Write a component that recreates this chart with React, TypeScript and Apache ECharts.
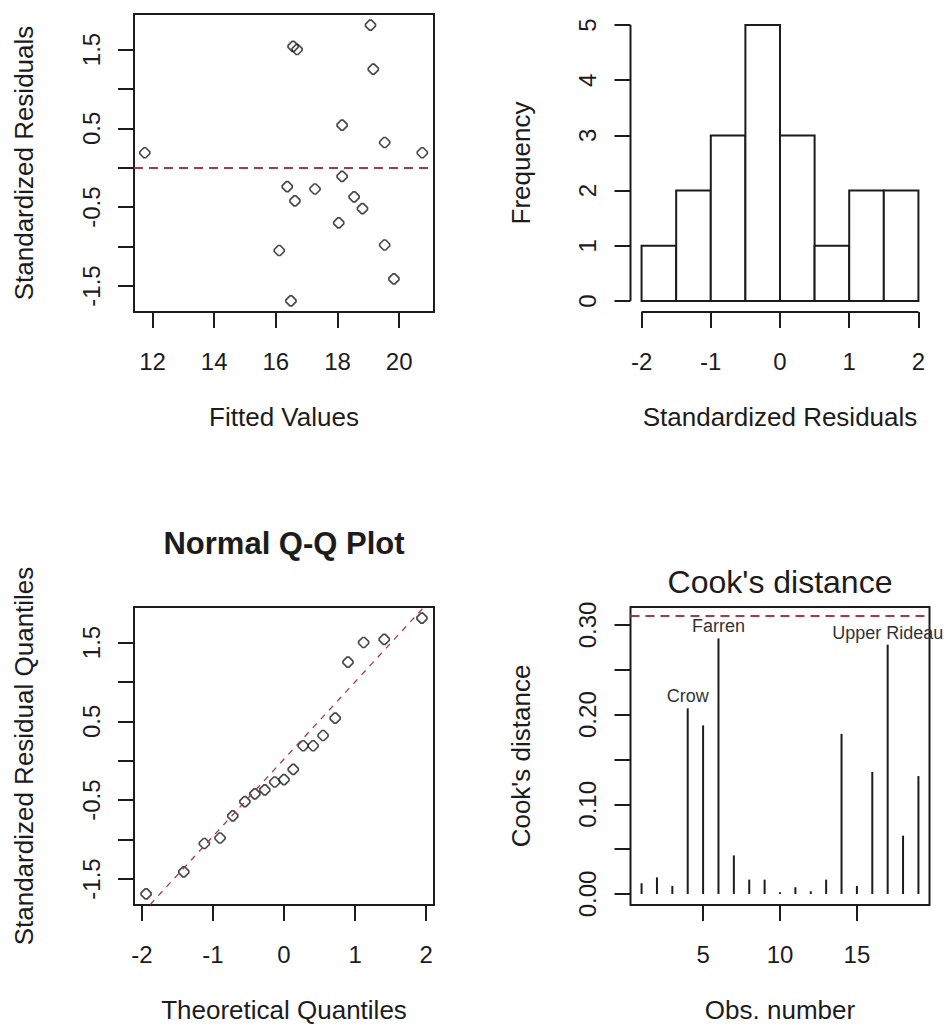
import React, { useEffect, useRef } from "react";
import * as echarts from "echarts";

// ---- Regression diagnostics data ----
const fittedValues = [11.75, 16.56, 16.69, 19.07, 19.16, 18.15, 19.53, 20.75, 18.15, 16.37, 17.27, 16.62, 18.54, 18.81, 18.04, 16.11, 19.53, 19.83, 16.49];
const stdResiduals = [0.19, 1.54, 1.5, 1.81, 1.25, 0.54, 0.32, 0.19, -0.11, -0.24, -0.27, -0.42, -0.37, -0.52, -0.7, -1.05, -0.98, -1.41, -1.69];

const histBreaks = [-2, -1.5, -1, -0.5, 0, 0.5, 1, 1.5, 2];
const histCounts = [1, 2, 3, 5, 3, 1, 2, 2];

const theoreticalQuantiles = [-1.94, -1.41, -1.12, -0.9, -0.72, -0.55, -0.41, -0.27, -0.13, 0, 0.13, 0.27, 0.41, 0.55, 0.72, 0.9, 1.12, 1.41, 1.94];
const qqLineIntercept = 0.02;
const qqLineSlope = 0.98;

const cookDistances = [0.012, 0.0185, 0.009, 0.207, 0.188, 0.285, 0.043, 0.016, 0.016, 0.002, 0.0075, 0.003, 0.016, 0.1785, 0.009, 0.136, 0.278, 0.065, 0.1315];
const cookThreshold = 0.3077;
const labelledObs = [4, 6, 17];
const labelledNames = ["Crow", "Farren", "Upper Rideau"];

// ---- Tick values ----
const residualTicks = [-1.5, -1, -0.5, 0, 0.5, 1, 1.5];
const residualTickLabels = [-1.5, -0.5, 0.5, 1.5];
const fittedTicks = [12, 14, 16, 18, 20];
const histXTicks = [-2, -1, 0, 1, 2];
const freqTicks = [0, 1, 2, 3, 4, 5];
const qqXTicks = [-2, -1, 0, 1, 2];
const cookYTicks = [0, 0.05, 0.1, 0.15, 0.2, 0.25, 0.3];
const cookYTickLabels = [0, 0.1, 0.2, 0.3];
const obsTicks = [5, 10, 15];

// ---- Axis limits ----
const fittedRange = [11.4, 21.13];
const residualRange = [-1.83, 1.95];
const histXRange = [-2.16, 2.16];
const freqRange = [-0.2, 5.2];
const qqXRange = [-2.11, 2.11];
const obsRange = [0.28, 19.72];
const cookRange = [-0.0123, 0.32];

const FONT = "'Liberation Sans', Arial, sans-serif";
const INK = "#1c1c1c";
const RED = "#a63a48";
const POINT = "path://M4 0 L6 0 L10 4 L10 6 L6 10 L4 10 L0 6 L0 4 Z";

const fmt1 = (v: number) => (Math.abs(v) < 1e-9 ? "0" : String(v));
const fmt2 = (v: number) => v.toFixed(2);

function xAxisDef(gridIndex: number, range: number[], ticks: number[], labels: number[], name: string, formatter?: (v: number) => string) {
  return {
    type: "value",
    gridIndex,
    min: range[0],
    max: range[1],
    axisLine: { show: false, onZero: false },
    splitLine: { show: false },
    axisTick: { show: true, length: 16, customValues: ticks, lineStyle: { color: INK, width: 2 } },
    axisLabel: { customValues: labels, margin: 37, fontSize: 24, color: INK, fontFamily: FONT, formatter: formatter || fmt1 },
    name,
    nameLocation: "middle",
    nameGap: 92,
    nameTextStyle: { fontSize: 26, color: INK, fontFamily: FONT },
  };
}

function yAxisDef(gridIndex: number, range: number[], ticks: number[], labels: number[], name: string, formatter?: (v: number) => string) {
  return {
    type: "value",
    gridIndex,
    min: range[0],
    max: range[1],
    axisLine: { show: false, onZero: false },
    splitLine: { show: false },
    axisTick: { show: true, length: 16, customValues: ticks, lineStyle: { color: INK, width: 2 } },
    axisLabel: { customValues: labels, margin: 31, rotate: 90, fontSize: 24, color: INK, fontFamily: FONT, formatter: formatter || fmt1 },
    name,
    nameLocation: "middle",
    nameGap: 97,
    nameTextStyle: { fontSize: 26, color: INK, fontFamily: FONT },
  };
}

const pointStyle = {
  symbol: POINT,
  symbolSize: 10,
  itemStyle: { color: "transparent", borderColor: INK, borderWidth: 1.7 },
};

function buildOption() {
  const sortedResiduals = [...stdResiduals].sort((a, b) => a - b);
  const boxed = { show: true, borderColor: INK, borderWidth: 2, backgroundColor: "transparent" };

  return {
    animation: false,
    backgroundColor: "#ffffff",
    grid: [
      { left: 134, top: 14, width: 300, height: 298, ...boxed },
      { left: 630.5, top: 14, width: 299, height: 298, show: false },
      { left: 134, top: 607, width: 300, height: 298, ...boxed },
      { left: 630.5, top: 607, width: 299, height: 298, ...boxed },
    ],
    xAxis: [
      xAxisDef(0, fittedRange, fittedTicks, fittedTicks, "Fitted Values"),
      xAxisDef(1, histXRange, histXTicks, histXTicks, "Standardized Residuals"),
      xAxisDef(2, qqXRange, qqXTicks, qqXTicks, "Theoretical Quantiles"),
      xAxisDef(3, obsRange, obsTicks, obsTicks, "Obs. number"),
    ],
    yAxis: [
      yAxisDef(0, residualRange, residualTicks, residualTickLabels, "Standardized Residuals"),
      yAxisDef(1, freqRange, freqTicks, freqTicks, "Frequency"),
      yAxisDef(2, residualRange, residualTicks, residualTickLabels, "Standardized Residual Quantiles"),
      yAxisDef(3, cookRange, cookYTicks, cookYTickLabels, "Cook's distance", fmt2),
    ],
    graphic: [
      {
        type: "text",
        x: 284,
        y: 543,
        style: { text: "Normal Q-Q Plot", font: `bold 31px ${FONT}`, fill: INK, textAlign: "center", textVerticalAlign: "middle" },
      },
      {
        type: "text",
        x: 780,
        y: 582,
        style: { text: "Cook's distance", font: `32px ${FONT}`, fill: INK, textAlign: "center", textVerticalAlign: "middle" },
      },
    ],
    series: [
      // Residuals vs fitted
      {
        type: "scatter",
        xAxisIndex: 0,
        yAxisIndex: 0,
        data: fittedValues.map((x, i) => [x, stdResiduals[i]]),
        ...pointStyle,
        markLine: {
          silent: true,
          symbol: "none",
          label: { show: false },
          lineStyle: { color: RED, width: 2.2, type: [9, 6] },
          data: [{ yAxis: 0 }],
        },
      },
      // Histogram of residuals
      {
        type: "custom",
        xAxisIndex: 1,
        yAxisIndex: 1,
        data: histCounts.map((c, i) => [histBreaks[i], histBreaks[i + 1], c]),
        encode: { x: [0, 1], y: 2 },
        renderItem: (_params: any, api: any) => {
          const p0 = api.coord([api.value(0), api.value(2)]);
          const p1 = api.coord([api.value(1), 0]);
          return {
            type: "rect",
            shape: { x: p0[0], y: p0[1], width: p1[0] - p0[0], height: p1[1] - p0[1] },
            style: { fill: "#ffffff", stroke: INK, lineWidth: 2 },
          };
        },
      },
      // Histogram axis lines spanning the tick range
      {
        type: "custom",
        xAxisIndex: 1,
        yAxisIndex: 1,
        data: [[0]],
        renderItem: (_params: any, api: any) => {
          const xa = api.coord([histXTicks[0], freqRange[0]]);
          const xb = api.coord([histXTicks[histXTicks.length - 1], freqRange[0]]);
          const ya = api.coord([histXRange[0], freqTicks[0]]);
          const yb = api.coord([histXRange[0], freqTicks[freqTicks.length - 1]]);
          return {
            type: "group",
            children: [
              { type: "line", shape: { x1: xa[0], y1: xa[1], x2: xb[0], y2: xb[1] }, style: { stroke: INK, lineWidth: 2 } },
              { type: "line", shape: { x1: ya[0], y1: ya[1], x2: yb[0], y2: yb[1] }, style: { stroke: INK, lineWidth: 2 } },
            ],
          };
        },
      },
      // Normal Q-Q plot
      {
        type: "scatter",
        xAxisIndex: 2,
        yAxisIndex: 2,
        data: theoreticalQuantiles.map((q, i) => [q, sortedResiduals[i]]),
        ...pointStyle,
      },
      {
        type: "line",
        xAxisIndex: 2,
        yAxisIndex: 2,
        showSymbol: false,
        clip: true,
        lineStyle: { color: RED, width: 1.3, type: [6, 6] },
        data: [qqXRange[0], qqXRange[1]].map((x) => [x, qqLineIntercept + qqLineSlope * x]),
      },
      // Cook's distance
      {
        type: "bar",
        xAxisIndex: 3,
        yAxisIndex: 3,
        barWidth: 2,
        itemStyle: { color: INK },
        data: cookDistances.map((v, i) => {
          const k = labelledObs.indexOf(i + 1);
          return k >= 0
            ? {
                value: [i + 1, v],
                label: {
                  show: true,
                  position: "top",
                  distance: 3,
                  formatter: labelledNames[k],
                  fontSize: 18,
                  color: "#333333",
                  fontFamily: FONT,
                },
              }
            : { value: [i + 1, v] };
        }),
        markLine: {
          silent: true,
          symbol: "none",
          label: { show: false },
          lineStyle: { color: RED, width: 2.2, type: [9, 6] },
          data: [{ yAxis: cookThreshold }],
        },
      },
    ],
  };
}

export default function App() {
  const ref = useRef<HTMLDivElement>(null);
  useEffect(() => {
    if (!ref.current) return;
    const chart = echarts.init(ref.current, null, { renderer: "svg" });
    chart.setOption(buildOption() as any);
    return () => chart.dispose();
  }, []);
  return (
    <div
      ref={ref}
      style={{ position: "absolute", left: 0, top: 0, width: 944, height: 1030, background: "#ffffff" }}
    />
  );
}
